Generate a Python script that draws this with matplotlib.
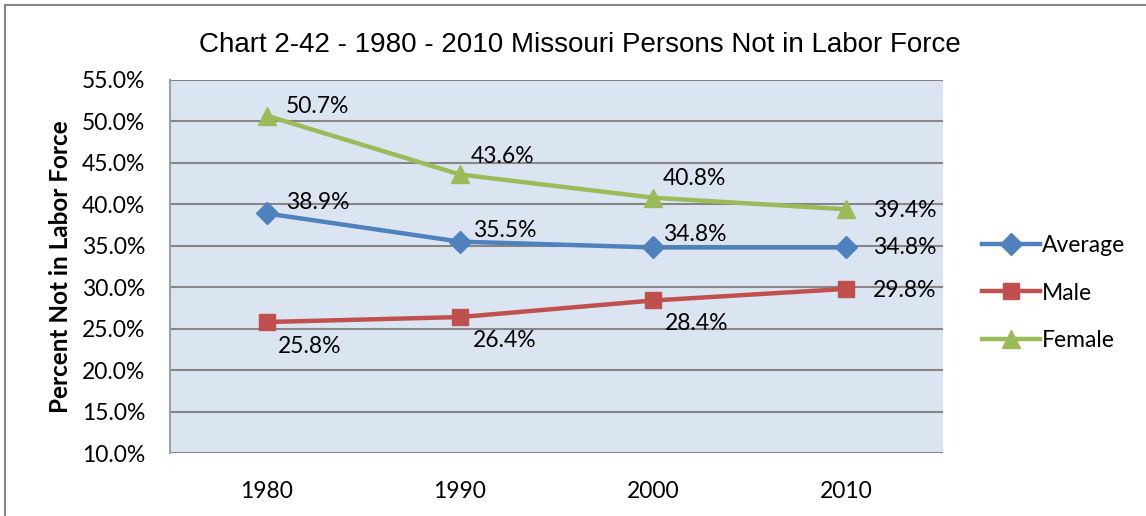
"""Chart 2-42: Missouri persons not in labor force, 1980-2010."""

import matplotlib.pyplot as plt
from matplotlib import font_manager
from matplotlib.lines import Line2D
from matplotlib.patches import Rectangle

YEARS = ["1980", "1990", "2000", "2010"]
AVERAGE = [38.9, 35.5, 34.8, 34.8]
MALE = [25.8, 26.4, 28.4, 29.8]
FEMALE = [50.7, 43.6, 40.8, 39.4]
Y_TICKS = [10, 15, 20, 25, 30, 35, 40, 45, 50, 55]

BLUE = "#4F81BD"
RED = "#C0504D"
GREEN = "#9BBB59"

names = {f.name for f in font_manager.fontManager.ttflist}
BODY = "Lato" if "Lato" in names else "DejaVu Sans"
TITLE = "Liberation Sans Narrow" if "Liberation Sans Narrow" in names else "Liberation Sans"
FS = 16.5


def px(v):
    # pixel offsets -> points at 100 dpi
    return v * 0.72


fig = plt.figure(figsize=(11.46, 5.16), dpi=100)
fig.patches.append(Rectangle((5 / 1146, -0.1), 1.2, 1 - 5 / 516 + 0.1,
                             transform=fig.transFigure, fill=False,
                             edgecolor="#868686", linewidth=1.5))

ax = fig.add_axes([170 / 1146, 1 - 453 / 516, 773 / 1146, 373 / 516])
ax.set_facecolor("#DBE5F1")
x = list(range(len(YEARS)))

series = [
    ("Average", AVERAGE, BLUE, "D", 11),
    ("Male", MALE, RED, "s", 12),
    ("Female", FEMALE, GREEN, "^", 13),
]
for name, vals, color, mk, ms in series:
    ax.plot(x, vals, color=color, linewidth=3.2, marker=mk, markersize=ms,
            zorder=3, clip_on=False)

# data labels (pixel offsets from the marker)
offsets = {
    "Average": [(19, 11), (13, 11), (10, 13), (27, 0)],
    "Male": [(11, -24), (13, -23), (12, -23), (27, -2)],
    "Female": [(19, 9), (11, 18), (10, 19), (27, -1)],
}
for name, vals, color, mk, ms in series:
    for i, v in enumerate(vals):
        dx, dy = offsets[name][i]
        ax.annotate(f"{v:.1f}%", (i, v), xytext=(px(dx), px(dy)),
                    textcoords="offset points", ha="left", va="center",
                    fontsize=FS, family=BODY, color="black", zorder=4)

ax.set_xlim(-0.5, 3.5)
ax.set_ylim(10, 55)
ax.set_yticks(Y_TICKS)
ax.set_yticklabels([f"{t:.1f}%" for t in Y_TICKS], family=BODY, fontsize=FS)
ax.set_xticks(x)
ax.set_xticklabels(YEARS, family=BODY, fontsize=FS)
ax.tick_params(axis="y", length=0, pad=18)
ax.tick_params(axis="x", length=0, pad=20)
ax.grid(axis="y", color="#868686", linewidth=1.5)
ax.set_axisbelow(True)
for side in ["left", "top", "bottom", "right"]:
    ax.spines[side].set_visible(False)
ax.spines["left"].set_visible(True)
ax.spines["left"].set_color("#A0A0A0")
ax.spines["left"].set_linewidth(1.5)

ax.set_ylabel("Percent Not in Labor Force", family=BODY, fontsize=17.5,
              fontweight="bold")
ax.yaxis.set_label_coords(-0.127, 0.5)
fig.text(580 / 1146, 1 - 45 / 516,
         "Chart 2-42 - 1980 - 2010 Missouri Persons Not in Labor Force",
         ha="center", va="center", family=TITLE, fontsize=20)

handles = [Line2D([], [], color=c, linewidth=3.2, marker=m, markersize=s)
           for _, _, c, m, s in series]
fig.legend(handles, [s[0] for s in series], loc="center left",
           bbox_to_anchor=(971 / 1146, 1 - 293 / 516), frameon=False,
           prop={"family": BODY, "size": FS}, handlelength=2.5,
           handletextpad=0.1, labelspacing=1.15, borderpad=0)

fig.savefig("out.png", dpi=100)
